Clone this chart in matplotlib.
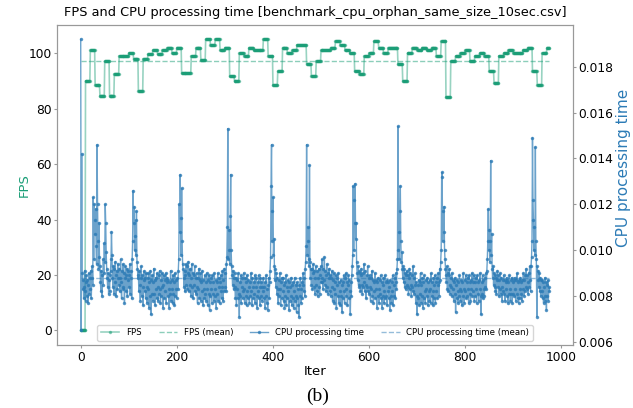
import numpy as np
import matplotlib
matplotlib.use("Agg")
import matplotlib.pyplot as plt

# FPS value held for each block of 10 iterations
fps_blocks = [0, 90, 101, 88.5, 84.7, 97, 84.7, 92.6, 99, 99,
              100, 98, 86.2, 98, 99.5, 101, 99.5, 101, 102, 100,
              102, 92.8, 92.8, 99, 102, 97.5, 105, 103, 105, 101,
              102, 91.6, 90, 100, 99, 102, 101, 101, 105, 99,
              88.4, 93.4, 102, 100, 101, 103, 103, 96.2, 91.6, 97,
              101, 101, 102, 104.2, 103, 101, 100, 93.4, 92.6, 99,
              100, 104.2, 102, 100, 102, 102, 96.2, 90, 100, 102,
              101, 102, 101, 102, 99, 104.2, 84.1, 97, 99, 100,
              101, 97, 99, 100, 99, 93.4, 89.2, 99, 100, 101,
              100, 100, 101, 102, 93.4, 88.4, 100, 102]
block_len = 10

# CPU processing time per iteration, in units of 0.1 ms
cpu_tenth_ms = [
    192, 65, 142, 90, 83, 87, 79, 84, 91, 82, 78, 86, 89, 80, 87, 77, 85, 90, 81, 88,
    83, 91, 79, 88, 93, 85, 123, 96, 120, 107, 113, 118, 102, 94, 146, 120, 104, 92, 112, 97,
    93, 86, 82, 91, 80, 89, 85, 96, 90, 103, 95, 120, 112, 99, 92, 88, 84, 90, 81, 87,
    82, 89, 91, 96, 108, 98, 88, 84, 93, 81, 92, 86, 95, 80, 89, 91, 83, 94, 88, 85,
    92, 82, 88, 96, 86, 79, 91, 84, 94, 83, 90, 77, 88, 93, 82, 89, 92, 80, 87, 91,
    84, 89, 94, 81, 88, 91, 79, 96, 104, 126, 112, 119, 100, 106, 113, 98, 117, 95, 92, 88,
    89, 82, 91, 85, 78, 88, 93, 80, 89, 84, 76, 87, 91, 82, 88, 79, 90, 84, 77, 88,
    83, 90, 75, 86, 80, 91, 72, 87, 81, 89, 78, 86, 92, 81, 87, 76, 88, 83, 79, 90,
    84, 78, 89, 81, 91, 83, 77, 87, 80, 90, 84, 75, 85, 89, 79, 87, 82, 90, 77, 86,
    88, 80, 87, 83, 75, 86, 81, 91, 78, 87, 83, 77, 89, 81, 86, 76, 90, 80, 87, 83,
    79, 88, 83, 91, 96, 120, 108, 133, 114, 98, 127, 104, 94, 92, 88, 84, 91, 82, 89, 94,
    85, 93, 83, 90, 95, 82, 89, 85, 92, 80, 88, 94, 84, 90, 79, 89, 85, 93, 82, 88,
    81, 90, 84, 77, 88, 83, 92, 79, 87, 90, 78, 86, 82, 91, 76, 87, 83, 79, 89, 81,
    86, 78, 90, 83, 76, 87, 81, 89, 74, 86, 80, 88, 83, 77, 89, 81, 86, 78, 90, 83,
    80, 87, 75, 86, 81, 90, 78, 84, 88, 77, 86, 82, 89, 79, 84, 91, 78, 87, 82, 92,
    84, 90, 82, 94, 97, 110, 153, 96, 109, 100, 94, 115, 133, 100, 93, 89, 85, 91, 83, 88,
    90, 84, 79, 88, 76, 83, 87, 79, 90, 81, 71, 86, 80, 89, 77, 84, 88, 79, 82, 90,
    83, 77, 88, 80, 86, 76, 89, 82, 79, 87, 84, 77, 86, 80, 90, 82, 76, 88, 84, 79,
    86, 81, 89, 77, 84, 88, 80, 75, 86, 82, 89, 79, 84, 76, 88, 80, 86, 78, 84, 82,
    88, 79, 84, 75, 86, 80, 89, 77, 83, 74, 85, 88, 79, 86, 91, 97, 128, 146, 104, 117,
    123, 98, 105, 93, 87, 92, 84, 90, 81, 88, 83, 77, 87, 80, 90, 83, 76, 86, 79, 88,
    82, 88, 78, 85, 75, 86, 80, 89, 76, 84, 79, 87, 82, 74, 86, 78, 84, 80, 88, 76,
    85, 79, 86, 75, 82, 88, 78, 85, 80, 73, 86, 79, 83, 76, 71, 85, 80, 88, 77, 83,
    86, 79, 85, 90, 82, 88, 80, 92, 95, 102, 146, 98, 110, 104, 96, 93, 137, 95, 88, 92,
    85, 92, 83, 90, 94, 84, 91, 81, 88, 93, 85, 82, 91, 80, 88, 84, 92, 81, 89, 86,
    93, 86, 96, 88, 83, 92, 87, 97, 85, 91, 82, 89, 94, 84, 90, 81, 88, 92, 82, 89,
    80, 88, 84, 91, 78, 87, 83, 90, 77, 86, 81, 89, 75, 85, 88, 80, 90, 77, 86, 82,
    76, 87, 80, 85, 73, 86, 79, 89, 82, 77, 88, 83, 90, 80, 86, 76, 85, 89, 79, 87,
    82, 72, 86, 80, 89, 93, 98, 128, 100, 122, 112, 129, 105, 112, 95, 90, 87, 93, 85, 91,
    84, 90, 82, 89, 92, 85, 81, 90, 84, 94, 86, 82, 91, 85, 79, 89, 84, 93, 82, 88,
    81, 89, 84, 78, 88, 83, 91, 80, 87, 77, 86, 82, 90, 79, 87, 83, 75, 86, 80, 88,
    83, 77, 87, 81, 89, 79, 86, 75, 85, 80, 88, 77, 82, 89, 79, 86, 80, 76, 87, 82,
    86, 79, 84, 74, 87, 80, 77, 86, 82, 89, 76, 85, 80, 88, 79, 86, 90, 83, 92, 96,
    154, 100, 108, 96, 117, 128, 104, 95, 99, 92, 88, 93, 86, 92, 84, 90, 83, 89, 85, 91,
    84, 89, 81, 88, 92, 83, 90, 85, 80, 89, 84, 93, 82, 88, 81, 90, 85, 77, 86, 80,
    72, 85, 79, 87, 76, 86, 81, 90, 77, 85, 80, 88, 75, 86, 79, 89, 82, 77, 87, 83,
    80, 88, 76, 86, 82, 78, 87, 83, 77, 90, 80, 86, 82, 76, 88, 79, 85, 89, 77, 86,
    82, 88, 79, 85, 90, 80, 86, 92, 87, 95, 100, 132, 134, 104, 117, 108, 119, 100, 96, 92,
    89, 86, 93, 83, 90, 82, 89, 92, 85, 81, 88, 84, 90, 80, 87, 83, 78, 86, 81, 88,
    73, 85, 79, 87, 82, 77, 86, 80, 89, 83, 78, 87, 82, 76, 86, 80, 90, 83, 77, 87,
    82, 89, 79, 86, 80, 88, 83, 77, 89, 81, 86, 78, 87, 83, 90, 80, 86, 82, 89, 78,
    86, 80, 88, 83, 77, 89, 81, 86, 78, 87, 83, 90, 80, 72, 86, 81, 89, 79, 87, 83,
    80, 88, 84, 90, 83, 91, 96, 104, 118, 100, 109, 95, 104, 139, 98, 107, 92, 88, 93, 85,
    90, 84, 89, 82, 88, 81, 87, 91, 84, 89, 80, 87, 83, 90, 81, 88, 84, 78, 87, 82,
    89, 81, 87, 78, 86, 83, 88, 80, 87, 77, 86, 81, 89, 83, 78, 87, 81, 88, 77, 86,
    81, 87, 80, 88, 83, 78, 87, 81, 90, 79, 86, 77, 87, 83, 79, 88, 81, 86, 78, 87,
    83, 90, 80, 87, 82, 89, 84, 92, 83, 89, 86, 81, 90, 84, 93, 87, 82, 93, 97, 104,
    149, 122, 113, 100, 110, 98, 145, 104, 96, 71, 93, 87, 91, 84, 90, 82, 88, 80, 87, 82,
    87, 79, 86, 77, 84, 80, 88, 78, 86, 74, 85, 80, 87, 78, 84, 82,
]

title = "FPS and CPU processing time [benchmark_cpu_orphan_same_size_10sec.csv]"
fps_color = "#1b9e77"
cpu_color = "#2c7bb6"

cpu = np.array(cpu_tenth_ms) / 1e4
iters = np.arange(len(cpu))
fps = np.repeat(fps_blocks, block_len)[:len(cpu)]

fig = plt.figure(figsize=(6.33, 4.08), dpi=100)
ax1 = fig.add_axes([0.0905, 0.1544, 0.8143, 0.7851])
ax2 = ax1.twinx()

ax1.plot(iters, fps, color=fps_color, marker=".", markersize=3, lw=1.2,
         alpha=0.45, label="FPS")
ax1.plot(iters, np.full(len(iters), fps.mean()), color=fps_color, ls="--",
         lw=1, alpha=0.5, label="FPS (mean)")
ax2.plot(iters, cpu, color=cpu_color, marker=".", markersize=3, lw=1,
         alpha=0.7, label="CPU processing time")
ax2.plot(iters, np.full(len(iters), cpu.mean()), color=cpu_color, ls="--",
         lw=1, alpha=0.5, label="CPU processing time (mean)")

ax1.set_title(title, fontsize=9.25)
ax1.set_xlabel("Iter", fontsize=9.5, labelpad=1)
ax1.set_ylabel("FPS", color=fps_color, fontsize=9.5)
ax2.set_ylabel("CPU processing time", color=cpu_color, fontsize=11)
ax1.yaxis.set_label_coords(-0.052, 0.5)
ax2.yaxis.set_label_coords(1.083, 0.553)
ax1.set_xticks([0, 200, 400, 600, 800, 1000])
ax2.set_yticks([0.006, 0.008, 0.010, 0.012, 0.014, 0.016, 0.018])

for ax in (ax1, ax2):
    ax.tick_params(labelsize=8.8, color="0.6", length=2.5, pad=1.5)
    for sp in ax.spines.values():
        sp.set_color("0.6")

h1, l1 = ax1.get_legend_handles_labels()
h2, l2 = ax2.get_legend_handles_labels()
ax2.legend(h1 + h2, l1 + l2, loc="lower center", ncol=4, fontsize=6.2,
           columnspacing=2.0, handlelength=2.1)

fig.text(0.502, 0.028, "(b)", fontsize=14, family="Liberation Serif",
         ha="center", va="center")

fig.savefig("out.png", dpi=100)
